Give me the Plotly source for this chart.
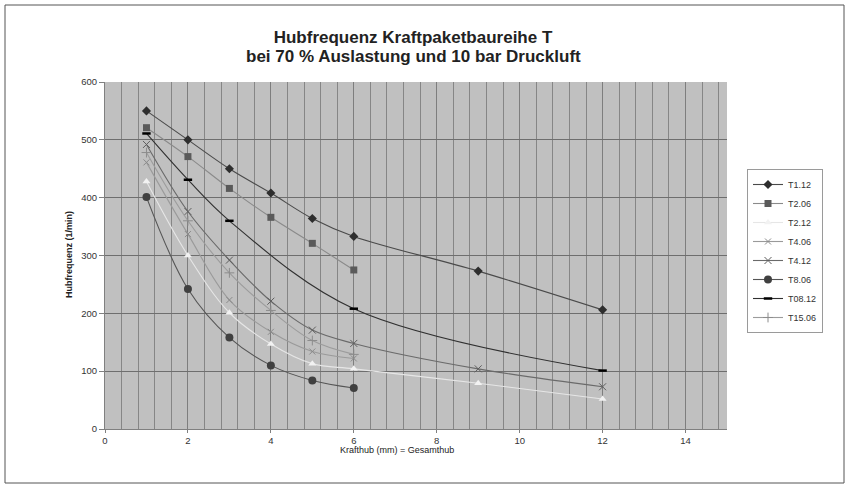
import plotly.graph_objects as go

# ---- data ----
x_t112 = [1, 2, 3, 4, 5, 6, 9, 12]
y_t112 = [550, 500, 450, 408, 364, 333, 273, 206]

x_t206 = [1, 2, 3, 4, 5, 6]
y_t206 = [521, 471, 416, 366, 321, 275]

x_t212 = [1, 2, 3, 4, 5, 6, 9, 12]
y_t212 = [428, 300, 201, 147, 113, 104, 79, 52]

x_t406 = [1, 2, 3, 4, 5, 6]
y_t406 = [461, 337, 223, 168, 134, 122]

x_t412 = [1, 2, 3, 4, 5, 6, 9, 12]
y_t412 = [492, 376, 292, 221, 171, 148, 104, 73]

x_t806 = [1, 2, 3, 4, 5, 6]
y_t806 = [401, 242, 158, 110, 84, 71]

x_t0812 = [1, 2, 3, 6, 12]
y_t0812 = [511, 431, 360, 208, 101]

x_t1506 = [1, 2, 3, 4, 5, 6]
y_t1506 = [478, 360, 270, 205, 153, 129]

names = ["T1.12", "T2.06", "T2.12", "T4.06", "T4.12", "T8.06", "T08.12", "T15.06"]
xs = [x_t112, x_t206, x_t212, x_t406, x_t412, x_t806, x_t0812, x_t1506]
ys = [y_t112, y_t206, y_t212, y_t406, y_t412, y_t806, y_t0812, y_t1506]

x_ticks = [0, 2, 4, 6, 8, 10, 12, 14]
y_ticks = [0, 100, 200, 300, 400, 500, 600]

title_line1 = "Hubfrequenz Kraftpaketbaureihe T"
title_line2 = "bei 70 % Auslastung und 10 bar Druckluft"
x_title = "Krafthub (mm) = Gesamthub"
y_title = "Hubfrequenz (1/min)"

# ---- styles ----
styles = [
    dict(lc="#4a4a4a", mc="#2e2e2e", sym="diamond", ms=7, mlw=0),
    dict(lc="#8a8a8a", mc="#5a5a5a", sym="square", ms=7, mlw=0),
    dict(lc="#e6e6e6", mc="#f2f2f2", sym="triangle-up", ms=7, mlw=0),
    dict(lc="#9a9a9a", mc="#8a8a8a", sym="x-thin-open", ms=6, mlw=1),
    dict(lc="#6a6a6a", mc="#5e5e5e", sym="x-thin-open", ms=7, mlw=1),
    dict(lc="#555555", mc="#404040", sym="circle", ms=8, mlw=0),
    dict(lc="#303030", mc="#000000", sym="line-ew-open", ms=6, mlw=2.5),
    dict(lc="#9c9c9c", mc="#8c8c8c", sym="cross-thin-open", ms=7, mlw=1),
]

fig = go.Figure()
for n, x, y, s in zip(names, xs, ys, styles):
    fig.add_trace(go.Scatter(
        x=x, y=y, name=n, mode="lines+markers",
        line=dict(color=s["lc"], width=1.1, shape="spline", smoothing=1.0),
        marker=dict(symbol=s["sym"], size=s["ms"], color=s["mc"],
                    line=dict(color=s["mc"], width=s["mlw"])),
    ))

L, R, T, B = 105, 727, 82, 429
W, H = 849, 488

def px(xp):
    return (xp - L) / (R - L)

def py(yp):
    return (B - yp) / (B - T)

title_font = dict(size=17, color="#222222", family="Liberation Sans, Arial, sans-serif",
                  weight="bold")

fig.update_layout(
    width=W, height=H,
    margin=dict(l=L, r=W - R, t=T, b=H - B),
    paper_bgcolor="white",
    plot_bgcolor="#c0c0c0",
    font=dict(family="Liberation Sans, Arial, sans-serif", size=9, color="#333333"),
    title=dict(text=title_line1, x=413 / W, xanchor="center", y=1 - 37 / H, yanchor="middle",
               yref="container", xref="container", font=title_font),
    showlegend=True,
    legend=dict(x=px(747), y=py(251), xanchor="left", yanchor="middle",
                bgcolor="white", bordercolor="#9a9a9a", borderwidth=1,
                font=dict(size=9, color="#333333"), itemwidth=30,
                tracegroupgap=0, itemclick=False),
    xaxis=dict(range=[0, 15], tickvals=x_ticks, ticks="outside", ticklen=3,
               tickcolor="#808080", showline=True, linecolor="#808080", linewidth=1,
               showgrid=True, gridcolor="#7e7e7e", gridwidth=1, zeroline=False,
               minor=dict(dtick=0.4, showgrid=True, gridcolor="#868686", gridwidth=1),
               tickfont=dict(size=9.5, color="#333333")),
    yaxis=dict(range=[0, 600], tickvals=y_ticks, ticks="outside", ticklen=5,
               tickcolor="#808080", showline=True, linecolor="#808080", linewidth=1,
               showgrid=True, gridcolor="#6e6e6e", gridwidth=1, zeroline=False,
               tickfont=dict(size=9.5, color="#333333")),
    annotations=[
        dict(text="<b>" + title_line2 + "</b>", xref="paper", yref="paper", x=px(413), y=py(56),
             xanchor="center", yanchor="middle", showarrow=False, font=title_font),
        dict(text=x_title, xref="paper", yref="paper", x=px(397), y=py(450),
             xanchor="center", yanchor="middle", showarrow=False,
             font=dict(size=9, color="#222222")),
        dict(text="<b>" + y_title + "</b>", xref="paper", yref="paper", x=px(69), y=py(255),
             xanchor="center", yanchor="middle", showarrow=False, textangle=-90,
             font=dict(size=9, color="#222222")),
    ],
    shapes=[
        dict(type="rect", xref="paper", yref="paper",
             x0=px(5), x1=px(844), y0=py(483), y1=py(5),
             line=dict(color="#555555", width=1), fillcolor="rgba(0,0,0,0)", layer="below"),
    ],
)

fig.write_html("out.html", config={"displayModeBar": False},
               post_script="document.body.style.margin='0';document.body.style.overflow='hidden';")
